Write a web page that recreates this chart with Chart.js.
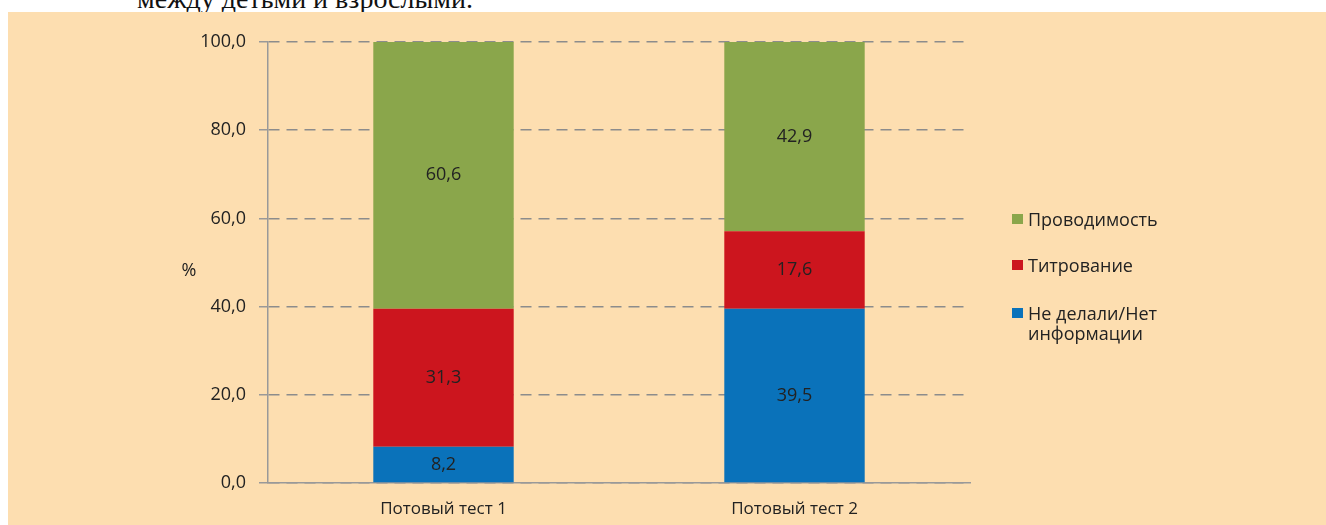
<!DOCTYPE html>
<html>
<head>
<meta charset="utf-8">
<script src="https://cdn.jsdelivr.net/npm/chart.js@4"></script>
<style>
  html, body { margin: 0; padding: 0; background: #ffffff; width: 1326px; height: 525px; overflow: hidden; }
  #caption { position: absolute; left: 137px; top: -14px; font-family: "Liberation Serif", serif; font-size: 28px; line-height: 26px; color: #111; white-space: nowrap; }
  #panel { position: absolute; left: 8px; top: 12px; width: 1318px; height: 513px; background: #fddeb0; }
  #legend { position: absolute; left: 1004px; top: 0; font-family: "Open Sans", sans-serif; font-size: 18px; color: #222; }
  .item { position: absolute; left: 0; white-space: nowrap; line-height: 20px; }
  .sw { position: absolute; left: 0; top: 5px; width: 11px; height: 10px; }
  .txt { position: absolute; left: 16px; top: 0; }
</style>
</head>
<body>
<div id="caption">между детьми и взрослыми.</div>
<div id="panel">
  <canvas id="chart" width="1318" height="513"></canvas>
  <div id="legend"></div>
</div>
<script>
var categories = ['Потовый тест 1', 'Потовый тест 2'];
var noInfo = [8.2, 39.5];
var titration = [31.3, 17.6];
var conductivity = [60.6, 42.9];
var yTicks = [0, 20, 40, 60, 80, 100];

var fmt = function (v) { return v.toFixed(1).replace('.', ','); };

var datasets = [
    { label: ['Не делали/Нет', 'информации'], data: noInfo, backgroundColor: '#0a72ba' },
    { label: ['Титрование'], data: titration, backgroundColor: '#cc151e' },
    { label: ['Проводимость'], data: conductivity, backgroundColor: '#8aa64b' }
];

// values inside the bars
var barLabels = {
    id: 'barLabels',
    afterDatasetsDraw: function (chart) {
        var ctx = chart.ctx;
        ctx.save();
        ctx.font = '18px "Open Sans", sans-serif';
        ctx.fillStyle = '#222';
        ctx.textAlign = 'center';
        ctx.textBaseline = 'middle';
        chart.data.datasets.forEach(function (ds, i) {
            chart.getDatasetMeta(i).data.forEach(function (bar, j) {
                ctx.fillText(fmt(ds.data[j]), bar.x, (bar.y + bar.base) / 2);
            });
        });
        // "%" axis title, not rotated
        ctx.fillText('%', chart.chartArea.left - 79, (chart.chartArea.top + chart.chartArea.bottom) / 2 + 8);
        ctx.restore();
    }
};

var canvas = document.getElementById('chart').getContext('2d');
var chart = new Chart(canvas, {
    type: 'bar',
    data: {
        labels: categories,
        datasets: datasets.map(function (d) {
            return { label: d.label.join(' '), data: d.data, backgroundColor: d.backgroundColor,
                     barPercentage: 0.8, categoryPercentage: 0.5 };
        })
    },
    options: {
        responsive: false,
        animation: false,
        layout: { padding: { left: 0, right: 356, top: 30, bottom: 0 } },
        plugins: { legend: { display: false }, tooltip: { enabled: false } },
        scales: {
            x: {
                stacked: true,
                grid: { display: false },
                border: { display: true, color: '#999', width: 1.5 },
                ticks: { color: '#222', padding: 8, font: { family: 'Open Sans', size: 17 } },
                afterFit: function (s) { s.height = 42; }
            },
            y: {
                stacked: true,
                min: 0, max: 100,
                afterBuildTicks: function (s) { s.ticks = yTicks.map(function (v) { return { value: v }; }); },
                grid: { color: '#8c8c8c', lineWidth: 1.5, tickLength: 9,
                        tickBorderDash: [], tickColor: '#999', drawOnChartArea: true },
                border: { display: true, color: '#999', width: 1.5, dash: [11, 7] },
                ticks: { color: '#222', padding: 13, font: { family: 'Open Sans', size: 18 },
                         callback: function (v) { return fmt(v); } },
                afterFit: function (s) { s.width = 260; }
            }
        }
    },
    plugins: [barLabels]
});

// legend, top entry first
var legend = document.getElementById('legend');
var tops = [197, 243, 291];
datasets.slice().reverse().forEach(function (d, i) {
    var item = document.createElement('div');
    item.className = 'item';
    item.style.top = tops[i] + 'px';
    item.innerHTML = '<div class="sw" style="background:' + d.backgroundColor + '"></div>' +
        '<div class="txt">' + d.label.join('<br>') + '</div>';
    legend.appendChild(item);
});
</script>
</body>
</html>
